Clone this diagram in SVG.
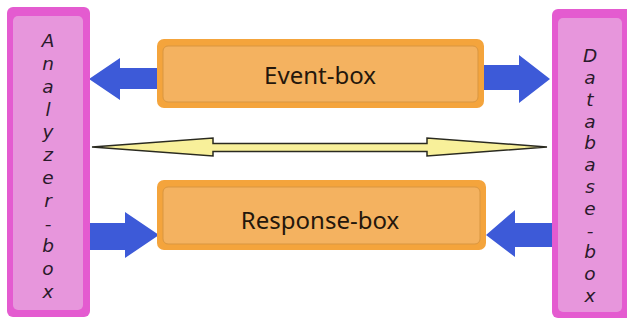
<svg xmlns="http://www.w3.org/2000/svg" width="627" height="320" viewBox="0 0 627 320">
<defs>
<style>
.side-o{fill:#e45bd0;}
.side-i{fill:#e796dc;}
.box-o{fill:#f4a43c;}
.box-i{fill:#f4b260;stroke:#d99640;stroke-width:1;}
.blue{fill:#3d5ad8;}
.vt{font-family:"DejaVu Sans",sans-serif;font-style:italic;font-size:18.5px;fill:#2a1a2a;text-anchor:middle;}
.bt{font-family:"Noto Sans","Open Sans",sans-serif;font-size:24px;fill:#24170c;text-anchor:middle;}
.yel{fill:#f8f09a;stroke:#2a2a20;stroke-width:1.5;stroke-linejoin:miter;}
</style>
</defs>
<rect width="627" height="320" fill="#ffffff"/>
<g id="connectors">
<polygon class="blue" points="160,68 120,68 120,58 89,79 120,100 120,89 160,89"/>
<polygon class="blue" points="480,65 519,65 519,55 550,79 519,103 519,90 480,90"/>
<polygon class="blue" points="89,223 125,223 125,212 159,235 125,258 125,250 89,250"/>
<polygon class="blue" points="552,223 515,223 515,210 486,235 515,257 515,247 552,247"/>
<polygon class="yel" points="92,147 213,138 213,143.5 427,143.5 427,138 547,147 427,156 427,151.5 213,151.5 213,156"/>
</g>
<g id="analyzer-box">
<rect class="side-o" x="7" y="7" width="83" height="310" rx="6"/>
<rect class="side-i" x="13" y="16" width="70" height="294" rx="5"/>
<text class="vt"><tspan x="48" y="47">A</tspan><tspan x="48" y="70">n</tspan><tspan x="48" y="93">a</tspan><tspan x="48" y="116">l</tspan><tspan x="48" y="138">y</tspan><tspan x="48" y="161">z</tspan><tspan x="48" y="184">e</tspan><tspan x="48" y="207">r</tspan><tspan x="48" y="230">-</tspan><tspan x="48" y="252">b</tspan><tspan x="48" y="275">o</tspan><tspan x="48" y="298">x</tspan></text>
</g>
<g id="database-box">
<rect class="side-o" x="552" y="9" width="80" height="309" rx="6"/>
<rect class="side-i" x="558" y="18" width="64" height="294" rx="5"/>
<text class="vt"><tspan x="590" y="62">D</tspan><tspan x="590" y="84">a</tspan><tspan x="590" y="106">t</tspan><tspan x="590" y="128">a</tspan><tspan x="590" y="149">b</tspan><tspan x="590" y="171">a</tspan><tspan x="590" y="193">s</tspan><tspan x="590" y="215">e</tspan><tspan x="590" y="237">-</tspan><tspan x="590" y="258">b</tspan><tspan x="590" y="280">o</tspan><tspan x="590" y="302">x</tspan></text>
</g>
<g id="event-box">
<rect class="box-o" x="157" y="39" width="327" height="69" rx="7"/>
<rect class="box-i" x="163" y="46" width="315" height="56" rx="5"/>
<text class="bt" x="320" y="84">Event-box</text>
</g>
<g id="response-box">
<rect class="box-o" x="157" y="180" width="329" height="70" rx="7"/>
<rect class="box-i" x="163" y="187" width="317" height="57" rx="5"/>
<text class="bt" x="320" y="229">Response-box</text>
</g>
</svg>
